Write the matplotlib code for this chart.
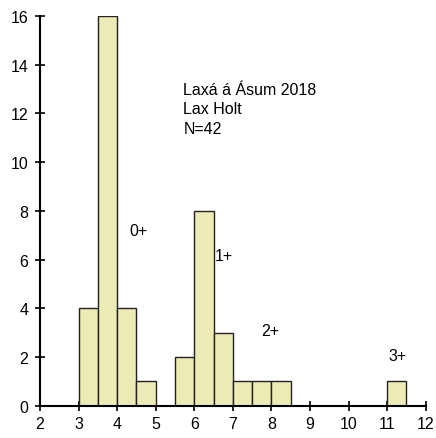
import matplotlib
matplotlib.use("Agg")
import matplotlib.pyplot as plt

plt.rcParams['font.family'] = ['Liberation Sans', 'DejaVu Sans']

bin_left = [3.0, 3.5, 4.0, 4.5, 5.5, 6.0, 6.5, 7.0, 7.5, 8.0, 11.0]
counts = [4, 16, 4, 1, 2, 8, 3, 1, 1, 1, 1]
bin_width = 0.5
age_labels = ["0+", "1+", "2+", "3+"]
age_label_pos = [(4.55, 7.2), (6.76, 6.15), (7.98, 3.07), (11.27, 2.07)]
title_lines = ["Laxá á Ásum 2018", "Lax Holt", "N=42"]

fig = plt.figure(figsize=(4.36, 4.39), dpi=100)
ax = fig.add_axes([40/436, 1-406.7/439, (425.7-40)/436, (406.7-17)/439])

ax.bar(bin_left, counts, width=bin_width, align='edge', color='#ECEBB5',
       edgecolor='#222222', linewidth=1.0, zorder=2)

ax.set_xlim(2, 12)
ax.set_ylim(0, 16)
ax.set_xticks(range(2, 13))
ax.set_yticks(range(0, 17, 2))
for s in ['top', 'right']:
    ax.spines[s].set_visible(False)
for s in ['left', 'bottom']:
    ax.spines[s].set_linewidth(1.5)
    ax.spines[s].set_zorder(3)
ax.tick_params(direction='inout', length=7, width=1.2, labelsize=11.5)
ax.tick_params(axis='y', pad=5)
ax.tick_params(axis='x', pad=4)

for (x, y), t in zip(age_label_pos, age_labels):
    ax.text(x, y, t, fontsize=11.5, ha='center', va='center')

ys = [12.79, 12.0, 11.18]
for y, t in zip(ys, title_lines):
    ax.text(5.72, y, t, fontsize=11.5, ha='left', va='baseline')

fig.savefig("out.png", dpi=100)
